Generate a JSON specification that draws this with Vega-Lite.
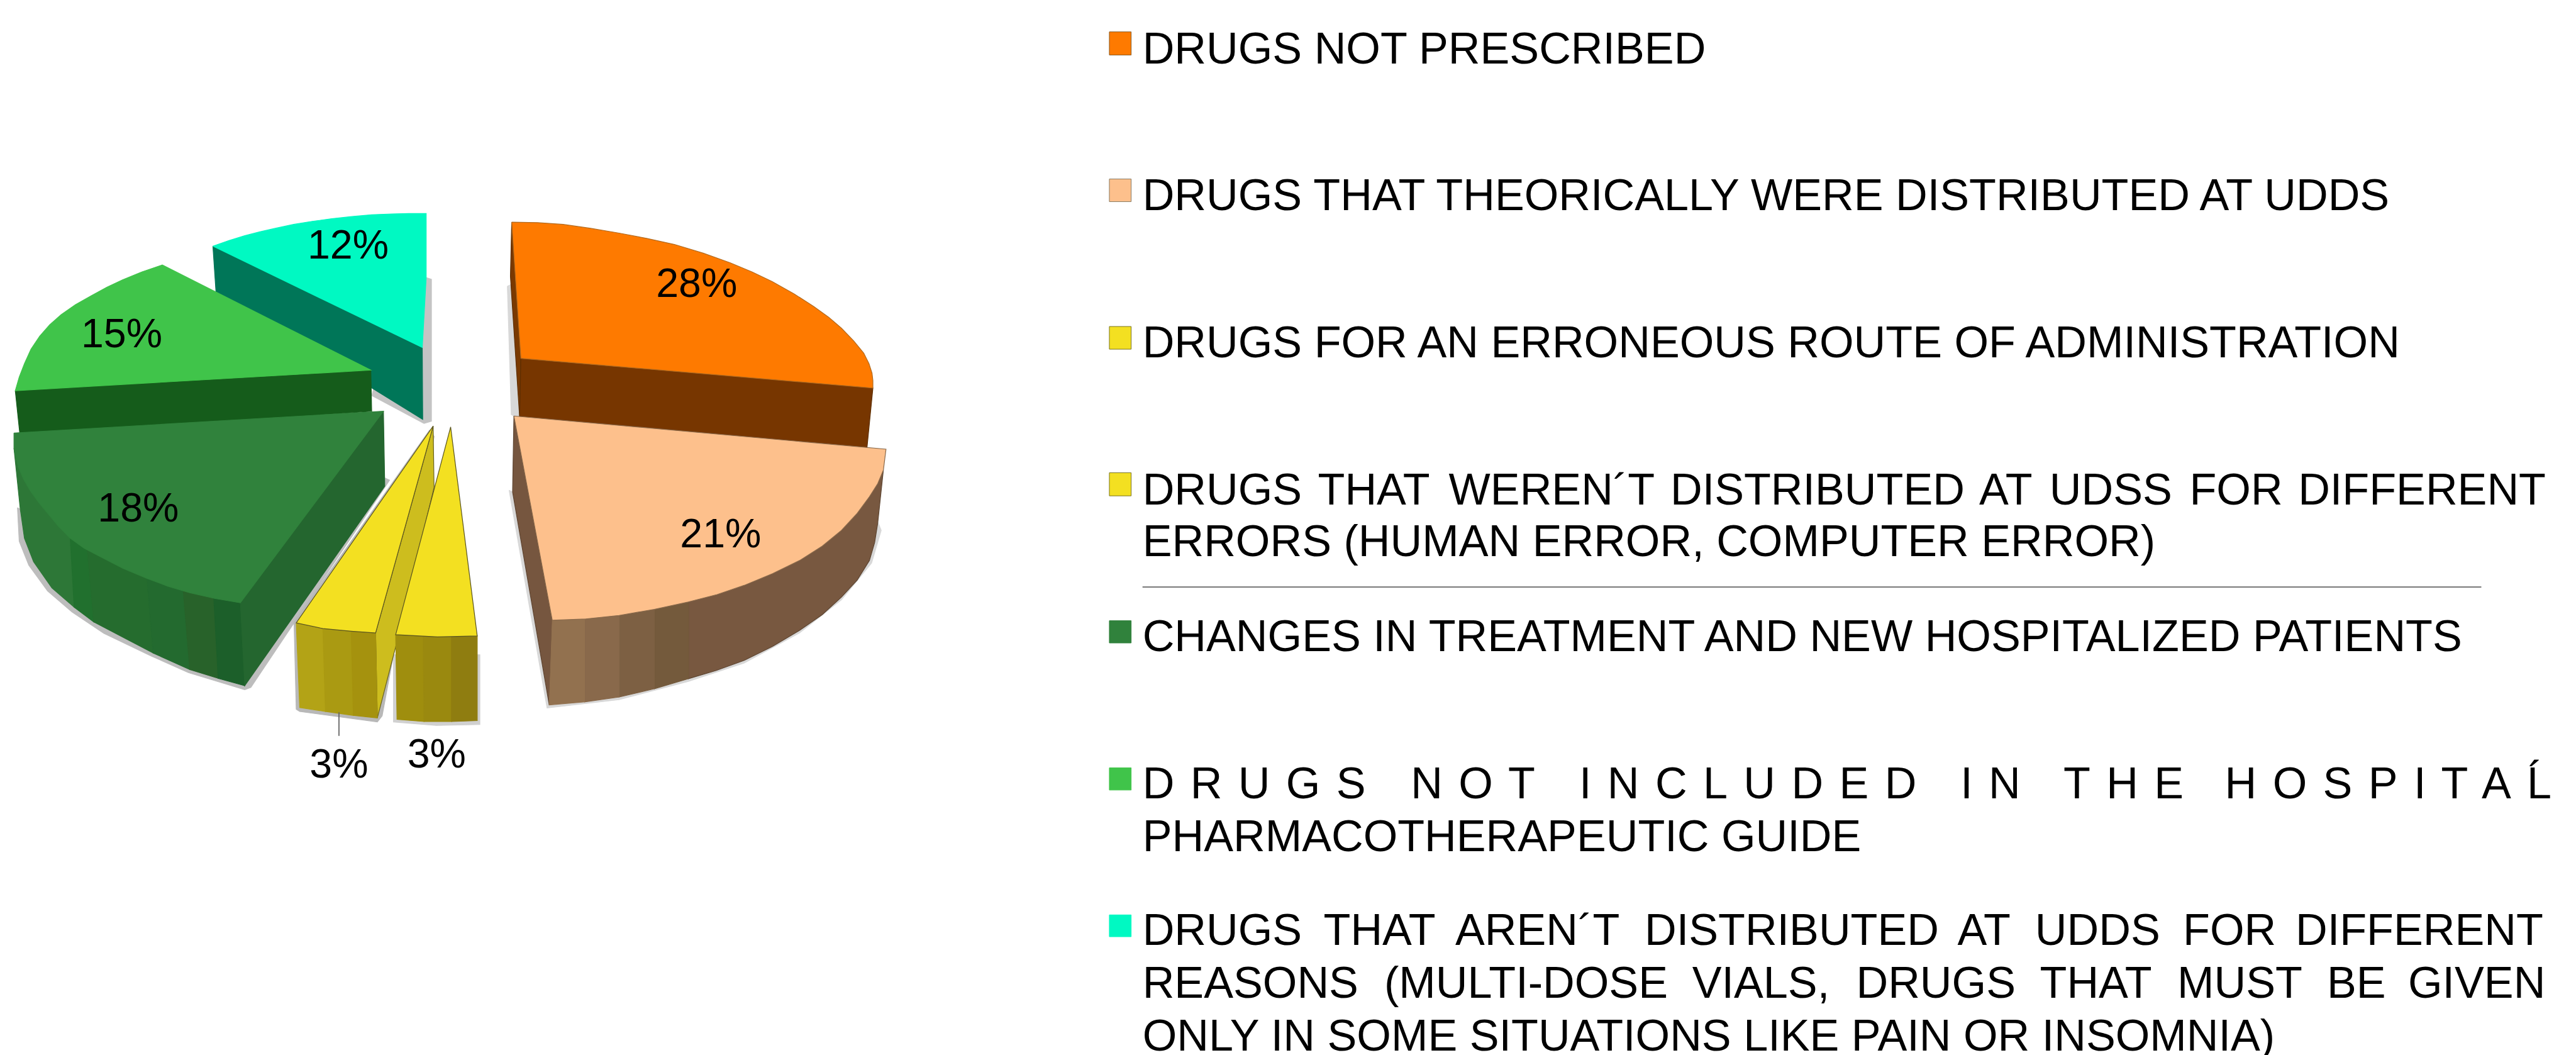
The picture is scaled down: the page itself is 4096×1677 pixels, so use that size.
{"$schema":"https://vega.github.io/schema/vega-lite/v6.json","width":4096,"height":1677,"padding":0,"autosize":"none","background":"white","view":{"stroke":null},
"resolve":{"scale":{"fill":"independent","stroke":"independent"}},
"layer":[
{"data":{"values":[
{"p":"sh1","i":0,"x":977,"y":636},{"p":"sh1","i":1,"x":989,"y":640},{"p":"sh1","i":2,"x":989,"y":965},{"p":"sh1","i":3,"x":972,"y":970},{"p":"sh1","i":4,"x":852,"y":906},{"p":"sh1","i":5,"x":860,"y":880},{"p":"sh1","i":6,"x":977,"y":636},
{"p":"sh2","i":0,"x":40,"y":1163},{"p":"sh2","i":1,"x":44,"y":1240},{"p":"sh2","i":2,"x":66,"y":1295},{"p":"sh2","i":3,"x":109,"y":1354},{"p":"sh2","i":4,"x":165,"y":1402},{"p":"sh2","i":5,"x":238,"y":1451},{"p":"sh2","i":6,"x":347,"y":1503},{"p":"sh2","i":7,"x":432,"y":1541},{"p":"sh2","i":8,"x":561,"y":1580},{"p":"sh2","i":9,"x":575,"y":1575},{"p":"sh2","i":10,"x":893,"y":1100},{"p":"sh2","i":11,"x":882,"y":1095},{"p":"sh2","i":12,"x":300,"y":1300},{"p":"sh2","i":13,"x":40,"y":1163},
{"p":"sh3","i":0,"x":985,"y":985},{"p":"sh3","i":1,"x":674,"y":1425},{"p":"sh3","i":2,"x":679,"y":1625},{"p":"sh3","i":3,"x":687,"y":1630},{"p":"sh3","i":4,"x":865,"y":1654},{"p":"sh3","i":5,"x":876,"y":1640},{"p":"sh3","i":6,"x":995,"y":1000},{"p":"sh3","i":7,"x":985,"y":985},
{"p":"sh4","i":0,"x":902,"y":1500},{"p":"sh4","i":1,"x":902,"y":1654},{"p":"sh4","i":2,"x":1000,"y":1662},{"p":"sh4","i":3,"x":1100,"y":1660},{"p":"sh4","i":4,"x":1100,"y":1500},{"p":"sh4","i":5,"x":902,"y":1500},
{"p":"sh5","i":0,"x":1163,"y":656},{"p":"sh5","i":1,"x":1175,"y":650},{"p":"sh5","i":2,"x":1195,"y":960},{"p":"sh5","i":3,"x":1172,"y":950},{"p":"sh5","i":4,"x":1163,"y":656},
{"p":"sh6","i":0,"x":1167,"y":1123},{"p":"sh6","i":1,"x":1254,"y":1622},{"p":"sh6","i":2,"x":1419,"y":1603},{"p":"sh6","i":3,"x":1578,"y":1561},{"p":"sh6","i":4,"x":1706,"y":1519},{"p":"sh6","i":5,"x":1833,"y":1450},{"p":"sh6","i":6,"x":1929,"y":1374},{"p":"sh6","i":7,"x":1998,"y":1290},{"p":"sh6","i":8,"x":2020,"y":1215},{"p":"sh6","i":9,"x":2012,"y":1195},{"p":"sh6","i":10,"x":1500,"y":1300},{"p":"sh6","i":11,"x":1167,"y":1123},
{"p":"teal_wall","i":0,"x":488,"y":564},{"p":"teal_wall","i":1,"x":968,"y":796},{"p":"teal_wall","i":2,"x":969,"y":961},{"p":"teal_wall","i":3,"x":495,"y":668},{"p":"teal_wall","i":4,"x":488,"y":564},
{"p":"teal_top","i":0,"x":488,"y":564},{"p":"teal_top","i":1,"x":525,"y":551},{"p":"teal_top","i":2,"x":561,"y":540},{"p":"teal_top","i":3,"x":596,"y":531},{"p":"teal_top","i":4,"x":631,"y":523},{"p":"teal_top","i":5,"x":673,"y":514},{"p":"teal_top","i":6,"x":716,"y":507},{"p":"teal_top","i":7,"x":761,"y":501},{"p":"teal_top","i":8,"x":807,"y":496},{"p":"teal_top","i":9,"x":852,"y":492},{"p":"teal_top","i":10,"x":898,"y":490},{"p":"teal_top","i":11,"x":937,"y":489},{"p":"teal_top","i":12,"x":977,"y":489},{"p":"teal_top","i":13,"x":977,"y":636},{"p":"teal_top","i":14,"x":968,"y":796},{"p":"teal_top","i":15,"x":488,"y":564},
{"p":"g15_wall","i":0,"x":35,"y":895},{"p":"g15_wall","i":1,"x":850,"y":848},{"p":"g15_wall","i":2,"x":852,"y":942},{"p":"g15_wall","i":3,"x":46,"y":1000},{"p":"g15_wall","i":4,"x":35,"y":895},
{"p":"g15_top","i":0,"x":372,"y":607},{"p":"g15_top","i":1,"x":325,"y":623},{"p":"g15_top","i":2,"x":281,"y":641},{"p":"g15_top","i":3,"x":245,"y":658},{"p":"g15_top","i":4,"x":210,"y":677},{"p":"g15_top","i":5,"x":173,"y":698},{"p":"g15_top","i":6,"x":140,"y":721},{"p":"g15_top","i":7,"x":114,"y":744},{"p":"g15_top","i":8,"x":91,"y":770},{"p":"g15_top","i":9,"x":71,"y":800},{"p":"g15_top","i":10,"x":56,"y":833},{"p":"g15_top","i":11,"x":44,"y":864},{"p":"g15_top","i":12,"x":35,"y":895},{"p":"g15_top","i":13,"x":850,"y":848},{"p":"g15_top","i":14,"x":372,"y":607},
{"p":"g18_b1","i":0,"x":32,"y":1027},{"p":"g18_b1","i":1,"x":42,"y":1070},{"p":"g18_b1","i":2,"x":70,"y":1125},{"p":"g18_b1","i":3,"x":112,"y":1179},{"p":"g18_b1","i":4,"x":161,"y":1233},{"p":"g18_b1","i":5,"x":170,"y":1391},{"p":"g18_b1","i":6,"x":119,"y":1347},{"p":"g18_b1","i":7,"x":77,"y":1287},{"p":"g18_b1","i":8,"x":56,"y":1233},{"p":"g18_b1","i":9,"x":46,"y":1163},{"p":"g18_b1","i":10,"x":32,"y":1027},
{"p":"g18_b2","i":0,"x":161,"y":1233},{"p":"g18_b2","i":1,"x":200,"y":1258},{"p":"g18_b2","i":2,"x":215,"y":1425},{"p":"g18_b2","i":3,"x":170,"y":1391},{"p":"g18_b2","i":4,"x":161,"y":1233},
{"p":"g18_b3","i":0,"x":200,"y":1258},{"p":"g18_b3","i":1,"x":337,"y":1325},{"p":"g18_b3","i":2,"x":351,"y":1496},{"p":"g18_b3","i":3,"x":215,"y":1425},{"p":"g18_b3","i":4,"x":200,"y":1258},
{"p":"g18_b4","i":0,"x":337,"y":1325},{"p":"g18_b4","i":1,"x":420,"y":1353},{"p":"g18_b4","i":2,"x":435,"y":1534},{"p":"g18_b4","i":3,"x":351,"y":1496},{"p":"g18_b4","i":4,"x":337,"y":1325},
{"p":"g18_b5","i":0,"x":420,"y":1353},{"p":"g18_b5","i":1,"x":490,"y":1370},{"p":"g18_b5","i":2,"x":500,"y":1554},{"p":"g18_b5","i":3,"x":435,"y":1534},{"p":"g18_b5","i":4,"x":420,"y":1353},
{"p":"g18_b6","i":0,"x":490,"y":1370},{"p":"g18_b6","i":1,"x":551,"y":1381},{"p":"g18_b6","i":2,"x":561,"y":1571},{"p":"g18_b6","i":3,"x":500,"y":1554},{"p":"g18_b6","i":4,"x":490,"y":1370},
{"p":"g18_inner","i":0,"x":879,"y":942},{"p":"g18_inner","i":1,"x":551,"y":1381},{"p":"g18_inner","i":2,"x":561,"y":1571},{"p":"g18_inner","i":3,"x":882,"y":1114},{"p":"g18_inner","i":4,"x":879,"y":942},
{"p":"g18_top","i":0,"x":32,"y":992},{"p":"g18_top","i":1,"x":879,"y":942},{"p":"g18_top","i":2,"x":551,"y":1381},{"p":"g18_top","i":3,"x":492,"y":1371},{"p":"g18_top","i":4,"x":435,"y":1358},{"p":"g18_top","i":5,"x":385,"y":1343},{"p":"g18_top","i":6,"x":337,"y":1325},{"p":"g18_top","i":7,"x":282,"y":1302},{"p":"g18_top","i":8,"x":231,"y":1276},{"p":"g18_top","i":9,"x":193,"y":1256},{"p":"g18_top","i":10,"x":161,"y":1233},{"p":"g18_top","i":11,"x":135,"y":1207},{"p":"g18_top","i":12,"x":112,"y":1179},{"p":"g18_top","i":13,"x":90,"y":1153},{"p":"g18_top","i":14,"x":70,"y":1125},{"p":"g18_top","i":15,"x":54,"y":1098},{"p":"g18_top","i":16,"x":42,"y":1070},{"p":"g18_top","i":17,"x":36,"y":1048},{"p":"g18_top","i":18,"x":32,"y":1027},{"p":"g18_top","i":19,"x":32,"y":992},
{"p":"ya_inner","i":0,"x":993,"y":976},{"p":"ya_inner","i":1,"x":995,"y":1117},{"p":"ya_inner","i":2,"x":907,"y":1482},{"p":"ya_inner","i":3,"x":865,"y":1645},{"p":"ya_inner","i":4,"x":861,"y":1450},{"p":"ya_inner","i":5,"x":993,"y":976},
{"p":"ya_b1","i":0,"x":679,"y":1427},{"p":"ya_b1","i":1,"x":740,"y":1437},{"p":"ya_b1","i":2,"x":746,"y":1630},{"p":"ya_b1","i":3,"x":687,"y":1621},{"p":"ya_b1","i":4,"x":679,"y":1427},
{"p":"ya_b2","i":0,"x":740,"y":1437},{"p":"ya_b2","i":1,"x":805,"y":1444},{"p":"ya_b2","i":2,"x":810,"y":1639},{"p":"ya_b2","i":3,"x":746,"y":1630},{"p":"ya_b2","i":4,"x":740,"y":1437},
{"p":"ya_b3","i":0,"x":805,"y":1444},{"p":"ya_b3","i":1,"x":861,"y":1450},{"p":"ya_b3","i":2,"x":865,"y":1645},{"p":"ya_b3","i":3,"x":810,"y":1639},{"p":"ya_b3","i":4,"x":805,"y":1444},
{"p":"ya_top","i":0,"x":993,"y":976},{"p":"ya_top","i":1,"x":679,"y":1427},{"p":"ya_top","i":2,"x":740,"y":1440},{"p":"ya_top","i":3,"x":805,"y":1446},{"p":"ya_top","i":4,"x":861,"y":1450},{"p":"ya_top","i":5,"x":993,"y":976},
{"p":"yb_b1","i":0,"x":907,"y":1454},{"p":"yb_b1","i":1,"x":970,"y":1458},{"p":"yb_b1","i":2,"x":972,"y":1653},{"p":"yb_b1","i":3,"x":910,"y":1648},{"p":"yb_b1","i":4,"x":907,"y":1454},
{"p":"yb_b2","i":0,"x":970,"y":1458},{"p":"yb_b2","i":1,"x":1035,"y":1459},{"p":"yb_b2","i":2,"x":1035,"y":1653},{"p":"yb_b2","i":3,"x":972,"y":1653},{"p":"yb_b2","i":4,"x":970,"y":1458},
{"p":"yb_b3","i":0,"x":1035,"y":1459},{"p":"yb_b3","i":1,"x":1094,"y":1457},{"p":"yb_b3","i":2,"x":1094,"y":1651},{"p":"yb_b3","i":3,"x":1035,"y":1653},{"p":"yb_b3","i":4,"x":1035,"y":1459},
{"p":"yb_top","i":0,"x":1033,"y":978},{"p":"yb_top","i":1,"x":907,"y":1454},{"p":"yb_top","i":2,"x":1003,"y":1459},{"p":"yb_top","i":3,"x":1094,"y":1457},{"p":"yb_top","i":4,"x":1033,"y":978},
{"p":"or_left","i":0,"x":1173,"y":509},{"p":"or_left","i":1,"x":1194,"y":821},{"p":"or_left","i":2,"x":1191,"y":954},{"p":"or_left","i":3,"x":1170,"y":633},{"p":"or_left","i":4,"x":1173,"y":509},
{"p":"or_front","i":0,"x":1194,"y":821},{"p":"or_front","i":1,"x":2001,"y":889},{"p":"or_front","i":2,"x":1987,"y":1030},{"p":"or_front","i":3,"x":1191,"y":960},{"p":"or_front","i":4,"x":1194,"y":821},
{"p":"or_top","i":0,"x":1173,"y":509},{"p":"or_top","i":1,"x":1232,"y":510},{"p":"or_top","i":2,"x":1291,"y":514},{"p":"or_top","i":3,"x":1354,"y":523},{"p":"or_top","i":4,"x":1419,"y":534},{"p":"or_top","i":5,"x":1482,"y":546},{"p":"or_top","i":6,"x":1546,"y":560},{"p":"or_top","i":7,"x":1612,"y":580},{"p":"or_top","i":8,"x":1674,"y":602},{"p":"or_top","i":9,"x":1724,"y":623},{"p":"or_top","i":10,"x":1770,"y":645},{"p":"or_top","i":11,"x":1820,"y":673},{"p":"or_top","i":12,"x":1865,"y":702},{"p":"or_top","i":13,"x":1900,"y":727},{"p":"or_top","i":14,"x":1929,"y":752},{"p":"or_top","i":15,"x":1957,"y":781},{"p":"or_top","i":16,"x":1980,"y":809},{"p":"or_top","i":17,"x":1992,"y":833},{"p":"or_top","i":18,"x":1999,"y":855},{"p":"or_top","i":19,"x":2001,"y":872},{"p":"or_top","i":20,"x":2001,"y":889},{"p":"or_top","i":21,"x":1194,"y":821},{"p":"or_top","i":22,"x":1173,"y":509},
{"p":"pe_left","i":0,"x":1178,"y":953},{"p":"pe_left","i":1,"x":1266,"y":1421},{"p":"pe_left","i":2,"x":1259,"y":1615},{"p":"pe_left","i":3,"x":1175,"y":1127},{"p":"pe_left","i":4,"x":1178,"y":953},
{"p":"pe_b5","i":0,"x":1578,"y":1379},{"p":"pe_b5","i":1,"x":1706,"y":1341},{"p":"pe_b5","i":2,"x":1833,"y":1284},{"p":"pe_b5","i":3,"x":1929,"y":1215},{"p":"pe_b5","i":4,"x":1993,"y":1138},{"p":"pe_b5","i":5,"x":2025,"y":1077},{"p":"pe_b5","i":6,"x":2012,"y":1199},{"p":"pe_b5","i":7,"x":2005,"y":1243},{"p":"pe_b5","i":8,"x":1993,"y":1284},{"p":"pe_b5","i":9,"x":1965,"y":1329},{"p":"pe_b5","i":10,"x":1929,"y":1368},{"p":"pe_b5","i":11,"x":1885,"y":1408},{"p":"pe_b5","i":12,"x":1833,"y":1444},{"p":"pe_b5","i":13,"x":1771,"y":1481},{"p":"pe_b5","i":14,"x":1706,"y":1513},{"p":"pe_b5","i":15,"x":1642,"y":1536},{"p":"pe_b5","i":16,"x":1578,"y":1555},{"p":"pe_b5","i":17,"x":1578,"y":1379},
{"p":"pe_b4","i":0,"x":1500,"y":1396},{"p":"pe_b4","i":1,"x":1578,"y":1379},{"p":"pe_b4","i":2,"x":1578,"y":1555},{"p":"pe_b4","i":3,"x":1500,"y":1578},{"p":"pe_b4","i":4,"x":1500,"y":1396},
{"p":"pe_b3","i":0,"x":1419,"y":1410},{"p":"pe_b3","i":1,"x":1500,"y":1396},{"p":"pe_b3","i":2,"x":1500,"y":1578},{"p":"pe_b3","i":3,"x":1419,"y":1597},{"p":"pe_b3","i":4,"x":1419,"y":1410},
{"p":"pe_b2","i":0,"x":1340,"y":1416},{"p":"pe_b2","i":1,"x":1419,"y":1410},{"p":"pe_b2","i":2,"x":1419,"y":1597},{"p":"pe_b2","i":3,"x":1340,"y":1608},{"p":"pe_b2","i":4,"x":1340,"y":1416},
{"p":"pe_b1","i":0,"x":1266,"y":1421},{"p":"pe_b1","i":1,"x":1340,"y":1416},{"p":"pe_b1","i":2,"x":1340,"y":1608},{"p":"pe_b1","i":3,"x":1259,"y":1615},{"p":"pe_b1","i":4,"x":1266,"y":1421},
{"p":"pe_top","i":0,"x":1178,"y":953},{"p":"pe_top","i":1,"x":2031,"y":1029},{"p":"pe_top","i":2,"x":2025,"y":1077},{"p":"pe_top","i":3,"x":2012,"y":1108},{"p":"pe_top","i":4,"x":1993,"y":1138},{"p":"pe_top","i":5,"x":1965,"y":1176},{"p":"pe_top","i":6,"x":1929,"y":1215},{"p":"pe_top","i":7,"x":1885,"y":1251},{"p":"pe_top","i":8,"x":1833,"y":1284},{"p":"pe_top","i":9,"x":1771,"y":1314},{"p":"pe_top","i":10,"x":1706,"y":1341},{"p":"pe_top","i":11,"x":1644,"y":1362},{"p":"pe_top","i":12,"x":1578,"y":1379},{"p":"pe_top","i":13,"x":1500,"y":1396},{"p":"pe_top","i":14,"x":1419,"y":1410},{"p":"pe_top","i":15,"x":1343,"y":1418},{"p":"pe_top","i":16,"x":1266,"y":1421},{"p":"pe_top","i":17,"x":1178,"y":953}
]},
"mark":{"type":"line","filled":true,"strokeWidth":1.2,"interpolate":"linear"},
"encoding":{
"x":{"field":"x","type":"quantitative","scale":{"domain":[0,5905],"nice":false,"zero":false},"axis":null},
"y":{"field":"y","type":"quantitative","scale":{"domain":[2417,0],"nice":false,"zero":false},"axis":null},
"order":{"field":"i","type":"quantitative"},
"fill":{"field":"p","type":"nominal","legend":null,"scale":{
"domain":["sh1","sh2","sh3","sh4","sh5","sh6","teal_wall","teal_top","g15_wall","g15_top","g18_b1","g18_b2","g18_b3","g18_b4","g18_b5","g18_b6","g18_inner","g18_top","ya_inner","ya_b1","ya_b2","ya_b3","ya_top","yb_b1","yb_b2","yb_b3","yb_top","or_left","or_front","or_top","pe_left","pe_b5","pe_b4","pe_b3","pe_b2","pe_b1","pe_top"],
"range":["#c4c4c4","#bdbdbd","#b8b8b8","#d0d0d0","#d8d8d8","#d8d8d8","#007658","#00F9C2","#155C1B","#40C44A","#2D7737","#21702E","#256C2E","#236A2F","#28622A","#1C5F2A","#24662F","#30823C","#CDBD1E","#B3A316","#AA9A12","#A5920E","#F3E021","#9F8E0E","#9A890F","#8F7D10","#F3E021","#7A3900","#773600","#FE7A00","#76563F","#785840","#745A3C","#7D6043","#89694B","#92714F","#FDC08C"]}},
"stroke":{"field":"p","type":"nominal","legend":null,"scale":{
"domain":["sh1","sh2","sh3","sh4","sh5","sh6","teal_wall","teal_top","g15_wall","g15_top","g18_b1","g18_b2","g18_b3","g18_b4","g18_b5","g18_b6","g18_inner","g18_top","ya_inner","ya_b1","ya_b2","ya_b3","ya_top","yb_b1","yb_b2","yb_b3","yb_top","or_left","or_front","or_top","pe_left","pe_b5","pe_b4","pe_b3","pe_b2","pe_b1","pe_top"],
"range":["#c4c4c4","#bdbdbd","#b8b8b8","#d0d0d0","#d8d8d8","#d8d8d8","#007658","#00F9C2","#155C1B","#40C44A","#2D7737","#21702E","#256C2E","#236A2F","#28622A","#1C5F2A","#24662F","#30823C","#6b6420","#B3A316","#AA9A12","#A5920E","#5a5420","#9F8E0E","#9A890F","#8F7D10","#5a5420","#5e2e00","#5e2e00","#b26a1e","#5e4430","#5e4632","#745A3C","#7D6043","#89694B","#92714F","#8a6a4c"]}}
}},
{"data":{"values":[{"x":777,"y":1632,"y2":1686},{"x":2619,"x2":5688,"y":1345}]},
"mark":{"type":"rule","stroke":"#666666","strokeWidth":1.8},
"encoding":{"x":{"field":"x","type":"quantitative"},"x2":{"field":"x2"},"y":{"field":"y","type":"quantitative"},"y2":{"field":"y2"}}},
{"data":{"values":[
{"s":"DRUGS NOT PRESCRIBED","x":2543,"x2":2593,"y":73,"y2":126},
{"s":"DRUGS THAT THEORICALLY WERE DISTRIBUTED AT UDDS","x":2543,"x2":2593,"y":410,"y2":462},
{"s":"DRUGS FOR AN ERRONEOUS ROUTE OF ADMINISTRATION","x":2543,"x2":2593,"y":748,"y2":800},
{"s":"DRUGS THAT WEREN´T DISTRIBUTED AT UDSS","x":2543,"x2":2593,"y":1083,"y2":1136},
{"s":"CHANGES IN TREATMENT AND NEW HOSPITALIZED PATIENTS","x":2543,"x2":2593,"y":1422,"y2":1473},
{"s":"DRUGS NOT INCLUDED IN THE HOSPITAL PHARMACOTHERAPEUTIC GUIDE","x":2543,"x2":2593,"y":1759,"y2":1810},
{"s":"DRUGS THAT AREN´T DISTRIBUTED AT UDDS","x":2543,"x2":2593,"y":2096,"y2":2146}
]},
"mark":{"type":"rect","strokeWidth":1},
"encoding":{"x":{"field":"x","type":"quantitative"},"x2":{"field":"x2"},"y":{"field":"y","type":"quantitative"},"y2":{"field":"y2"},
"fill":{"field":"s","type":"nominal","legend":null,"scale":{"domain":["DRUGS NOT PRESCRIBED","DRUGS THAT THEORICALLY WERE DISTRIBUTED AT UDDS","DRUGS FOR AN ERRONEOUS ROUTE OF ADMINISTRATION","DRUGS THAT WEREN´T DISTRIBUTED AT UDSS","CHANGES IN TREATMENT AND NEW HOSPITALIZED PATIENTS","DRUGS NOT INCLUDED IN THE HOSPITAL PHARMACOTHERAPEUTIC GUIDE","DRUGS THAT AREN´T DISTRIBUTED AT UDDS"],"range":["#FE7A00","#FDC08C","#F3E021","#F3E021","#30823C","#40C44A","#00F9C2"]}},
"stroke":{"field":"s","type":"nominal","legend":null,"scale":{"domain":["DRUGS NOT PRESCRIBED","DRUGS THAT THEORICALLY WERE DISTRIBUTED AT UDDS","DRUGS FOR AN ERRONEOUS ROUTE OF ADMINISTRATION","DRUGS THAT WEREN´T DISTRIBUTED AT UDSS","CHANGES IN TREATMENT AND NEW HOSPITALIZED PATIENTS","DRUGS NOT INCLUDED IN THE HOSPITAL PHARMACOTHERAPEUTIC GUIDE","DRUGS THAT AREN´T DISTRIBUTED AT UDDS"],"range":["#8a5a20","#8a7a60","#7a7420","#7a7420","#30823C","#40C44A","#00F9C2"]}}}},
{"data":{"values":[
{"t":"12%","x":798,"y":592},{"t":"15%","x":279,"y":795},{"t":"18%","x":317,"y":1195},{"t":"28%","x":1597,"y":680},{"t":"21%","x":1652,"y":1254},{"t":"3%","x":777,"y":1781},{"t":"3%","x":1001,"y":1759}
]},
"mark":{"type":"text","font":"Liberation Sans","fontSize":64.5,"align":"center","baseline":"alphabetic","color":"#000000"},
"encoding":{"x":{"field":"x","type":"quantitative"},"y":{"field":"y","type":"quantitative"},"text":{"field":"t"}}},
{"data":{"values":[
{"t":"DRUGS NOT PRESCRIBED","x":2619,"y":145},
{"t":"DRUGS THAT THEORICALLY WERE DISTRIBUTED AT UDDS","x":2619,"y":481},
{"t":"DRUGS FOR AN ERRONEOUS ROUTE OF ADMINISTRATION","x":2619,"y":819},
{"t":"DRUGS","x":2619,"y":1156},{"t":"THAT","x":3021,"y":1156},{"t":"WEREN´T","x":3321,"y":1156},{"t":"DISTRIBUTED","x":3829,"y":1156},{"t":"AT","x":4537,"y":1156},{"t":"UDSS","x":4698,"y":1156},{"t":"FOR","x":5019,"y":1156},{"t":"DIFFERENT","x":5268,"y":1156},
{"t":"ERRORS (HUMAN ERROR, COMPUTER ERROR)","x":2619,"y":1274},
{"t":"CHANGES IN TREATMENT AND NEW HOSPITALIZED PATIENTS","x":2619,"y":1492},
{"t":"D\u200a R\u200a U\u200a G\u200a S","x":2619,"y":1829},{"t":"N\u200a O\u200a T","x":3234,"y":1829},{"t":"I\u200a N\u200a C\u200a L\u200a U\u200a D\u200a E\u200a D","x":3620,"y":1829},{"t":"I\u200a N","x":4494,"y":1829},{"t":"T\u200a H\u200a E","x":4730,"y":1829},{"t":"H\u200a O\u200a S\u200a P\u200a I\u200a T\u200a A\u200a L","x":5100,"y":1829},{"t":"´","x":5795,"y":1815},
{"t":"PHARMACOTHERAPEUTIC GUIDE","x":2619,"y":1950},
{"t":"DRUGS","x":2619,"y":2165},{"t":"THAT","x":3034,"y":2165},{"t":"AREN´T","x":3336,"y":2165},{"t":"DISTRIBUTED","x":3770,"y":2165},{"t":"AT","x":4487,"y":2165},{"t":"UDDS","x":4665,"y":2165},{"t":"FOR","x":5004,"y":2165},{"t":"DIFFERENT","x":5262,"y":2165},
{"t":"REASONS","x":2619,"y":2286},{"t":"(MULTI-DOSE","x":3173,"y":2286},{"t":"VIALS,","x":3879,"y":2286},{"t":"DRUGS","x":4255,"y":2286},{"t":"THAT","x":4676,"y":2286},{"t":"MUST","x":4991,"y":2286},{"t":"BE","x":5334,"y":2286},{"t":"GIVEN","x":5520,"y":2286},
{"t":"ONLY IN SOME SITUATIONS LIKE PAIN OR INSOMNIA)","x":2619,"y":2407}
]},
"mark":{"type":"text","font":"Liberation Sans","fontSize":70.2,"align":"left","baseline":"alphabetic","color":"#000000"},
"encoding":{"x":{"field":"x","type":"quantitative"},"y":{"field":"y","type":"quantitative"},"text":{"field":"t"}}}
]}
